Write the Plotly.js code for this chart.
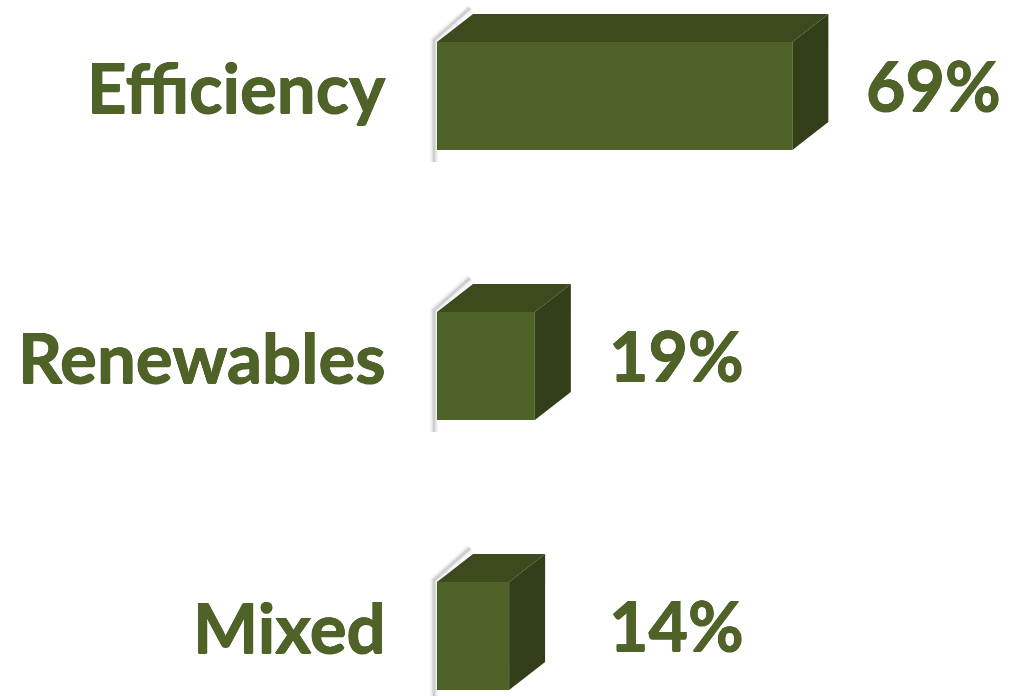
<!DOCTYPE html>
<html>
<head>
<meta charset="utf-8">
<script src="https://cdn.plot.ly/plotly-3.0.1.min.js"></script>
<style>html,body{margin:0;padding:0;background:#fff;}#chart{width:1009px;height:696px;}</style>
</head>
<body>
<div id="chart"></div>
<script>
// ---- data ----
const categories = ["Efficiency", "Renewables", "Mixed"];
const values = [69, 19, 14];
const valueLabels = ["69%", "19%", "14%"];

// ---- styling / geometry ----
const W = 1009, H = 696;
const front = "#4F6228", topC = "#3D4A1E", sideC = "#323F18", textC = "#4F6228";
const plotLeft = 417;            // px where plot area starts
const zeroPx = 437;              // px of value 0
const pxPerUnit = 5.15;          // px per percent
const xMin = -(zeroPx - plotLeft) / pxPerUnit;
const xMax = xMin + (W - plotLeft) / pxPerUnit;
const rowPx = 270, firstCenter = 96;
const yTop = -firstCenter / rowPx;
const yBot = yTop + H / rowPx;
const barW = 0.4;
const dX = 36 / pxPerUnit;       // depth in x units
const dY = 28 / rowPx;           // depth in y units
const fontFam = "Lato, 'Open Sans', sans-serif";
const thick = "0.5px 0 0 " + textC + ", -0.5px 0 0 " + textC + ", 0 0.5px 0 " + textC + ", 0 -0.5px 0 " + textC;

const idx = categories.map((_, i) => i);
const traces = [];

// shadows (left edge + top-left diagonal)
idx.forEach(i => {
  const t = i - barW / 2, b = i + barW / 2;
  [[8, 0.04], [5, 0.06], [2.5, 0.1]].forEach(([w, a]) => {
    const off = 3 / pxPerUnit;
    traces.push({
      type: "scatter", mode: "lines", hoverinfo: "skip", showlegend: false, cliponaxis: false,
      x: [dX - off, -off, -off],
      y: [t - dY - 6 / rowPx, t - 2 / rowPx, b + 12 / rowPx],
      line: {color: "rgba(0,0,0," + a + ")", width: w}
    });
  });
});

// front faces
traces.push({
  type: "bar", orientation: "h", x: values, y: idx, width: barW,
  marker: {color: front, line: {width: 0}}, hoverinfo: "skip", showlegend: false
});

// top & side faces
idx.forEach(i => {
  const v = values[i], t = i - barW / 2, b = i + barW / 2;
  traces.push({
    type: "scatter", mode: "lines", fill: "toself", fillcolor: topC, hoverinfo: "skip", showlegend: false,
    x: [0, v, v + dX, dX, 0], y: [t, t, t - dY, t - dY, t],
    line: {width: 0, color: topC}
  });
  traces.push({
    type: "scatter", mode: "lines", fill: "toself", fillcolor: sideC, hoverinfo: "skip", showlegend: false,
    x: [v, v + dX, v + dX, v, v], y: [t, t - dY, b - dY, b, t],
    line: {width: 0, color: sideC}
  });
});

const annotations = [];
idx.forEach(i => {
  annotations.push({
    xref: "paper", yref: "y", x: 0, y: i, xanchor: "right", yanchor: "middle",
    xshift: -(plotLeft - 388), yshift: 10, showarrow: false, text: "<b>" + categories[i] + "</b>",
    font: {family: fontFam, size: 69, color: textC, shadow: thick}
  });
  const lx = Math.max(values[i], values[1]);
  annotations.push({
    xref: "x", yref: "y", x: lx, y: i, xanchor: "left", yanchor: "middle",
    xshift: 36 + 36, yshift: 12, showarrow: false, text: "<b>" + valueLabels[i] + "</b>",
    font: {family: fontFam, size: 68, color: textC, shadow: thick}
  });
});

const layout = {
  width: W, height: H,
  margin: {l: plotLeft, r: 0, t: 0, b: 0, pad: 0},
  paper_bgcolor: "#fff", plot_bgcolor: "#fff",
  xaxis: {range: [xMin, xMax], visible: false, fixedrange: true},
  yaxis: {range: [yBot, yTop], visible: false, fixedrange: true},
  annotations: annotations,
  showlegend: false
};

Plotly.newPlot("chart", traces, layout, {displayModeBar: false, staticPlot: true});
</script>
</body>
</html>
